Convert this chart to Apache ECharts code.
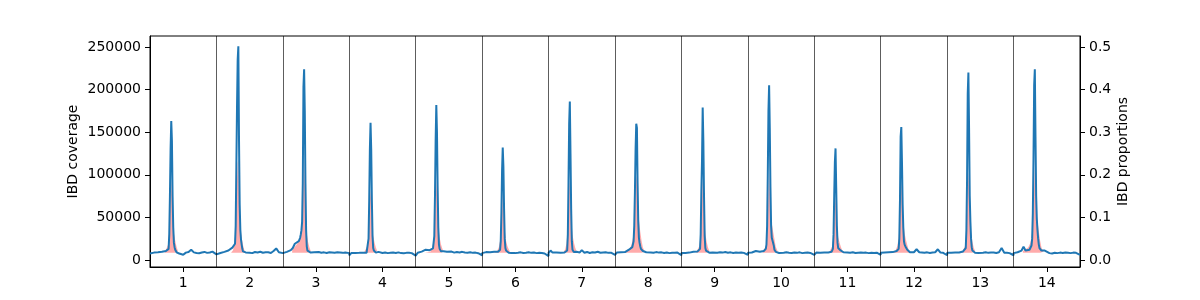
<!DOCTYPE html>
<html>
<head>
<meta charset="utf-8">
<script src="https://cdn.jsdelivr.net/npm/echarts@6/dist/echarts.min.js"></script>
<style>html,body{margin:0;padding:0;background:#fff}#c{width:1200px;height:300px}</style>
</head>
<body>
<div id="c"></div>
<script>
// chromosome numbers
const chromosomes = [1,2,3,4,5,6,7,8,9,10,11,12,13,14];
// relative position along each chromosome (0 = start, 1 = end)
const positions = [0.00,0.03,0.06,0.09,0.12,0.15,0.18,0.21,0.24,0.26,0.27,0.28,0.29,0.30,0.31,0.32,0.33,0.34,0.35,0.36,0.37,0.38,0.39,0.40,0.42,0.44,0.47,0.50,0.54,0.58,0.62,0.66,0.70,0.74,0.78,0.82,0.86,0.90,0.94,0.97,1.00];
// IBD coverage (thousands) per chromosome at the positions above
const cov1  = [7.5,8.0,8.6,8.3,9.0,8.7,9.5,9.8,10.5,11.0,11.5, 13,30,75,130,163,140,75,38,20,15,12,10,9.0, 8.5,7.5,8.8,6.0,8.6,9.2,12.0,8.9,8.2,7.9,8.8,9.4,8.3,8.8,9.8,8.6,6.5];
const cov2  = [8.0,8.5,8.2,9.0,9.5,10.2,11.0,12.5,14.5,15.5,16.5, 19,40,110,180,235,251,140,65,35,24,18,13,10, 9.5,8.8,9.4,8.5,8.0,9.3,8.7,9.6,8.4,8.9,9.0,8.2,10.5,13.5,9.0,8.2,8.0];
const cov3  = [9.0,8.8,9.5,10.0,11.5,14,19,21,22,26,30, 35,45,90,203,224,175,90,35,16,11,9.5,9.0,8.8, 8.6,8.3,9.0,8.8,9.4,8.5,8.9,8.2,9.0,8.7,8.4,8.9,8.6,8.3,8.8,8.5,8.0];
const cov4  = [5.5,8.0,8.4,8.2,8.6,8.3,8.0,8.5,8.2,8.4,8.6, 9.5,25,70,130,161,130,70,28,14,11,9.5,9.0,8.6, 8.3,9.5,8.4,8.2,8.7,8.0,8.4,8.6,8.2,8.9,8.0,7.8,8.3,8.5,8.0,7.2,5.0];
const cov5  = [5.5,8.5,9.0,9.8,11.5,12.0,10.8,11.5,12.5,13.5,15, 28,75,140,182,150,85,38,18,13,11,10.2,9.8,9.5, 10.2,8.8,9.6,10.5,9.8,8.6,9.2,8.8,9.5,8.7,8.5,9.0,8.3,8.6,7.9,7.5,5.5];
const cov6  = [8.0,8.5,9.2,8.7,9.0,8.4,9.5,8.8,9.6,10.5,12, 22,55,105,132,110,60,25,14,11,9.5,9.0,8.8,8.5, 9.0,8.2,8.6,8.0,8.4,8.9,8.2,8.5,9.0,8.3,8.7,8.0,8.4,8.2,7.6,7.0,4.5];
const cov7  = [8.5,11.0,8.6,9.2,8.8,9.0,8.5,9.3,8.7,9.0,9.5, 11,30,90,160,186,125,60,22,12,10,9.2,8.8,8.6, 9.5,8.4,8.8,11.5,8.5,9.4,8.2,9.0,8.7,9.6,8.4,8.8,9.0,8.3,8.5,8.0,6.0];
const cov8  = [8.0,8.8,8.3,9.0,8.6,9.2,10.5,12.0,13.5,15,17, 22,40,80,130,160,155,90,45,26,20,16,13,11.5, 10.5,9.5,9.0,8.2,8.8,8.4,9.2,8.6,8.9,8.2,8.7,8.0,8.5,8.3,8.6,7.5,5.5];
const cov9  = [8.0,8.5,8.2,9.0,8.6,8.8,9.5,9.0,9.8,10.5,11, 13,30,80,117,179,140,75,28,14,11,9.8,9.2,8.8, 8.5,9.0,8.8,9.5,8.4,9.0,8.6,9.2,8.5,8.9,8.2,8.6,8.4,8.8,8.3,8.0,6.0];
const cov10 = [8.5,9.0,8.7,9.5,10.5,12.0,9.5,10.0,10.5,11.5,13, 18,40,100,175,205,155,85,40,26,23,21,17,12, 9.5,8.6,8.2,8.8,8.4,9.0,8.5,8.1,8.7,8.3,8.9,8.0,8.4,8.6,8.2,7.8,6.0];
const cov11 = [7.0,8.6,8.9,8.4,9.0,8.7,9.3,8.8,9.2,9.5,10.5, 13,30,75,115,131,85,40,20,14,12.5,12,11.5,10.5, 9.5,9.0,8.6,8.8,8.4,9.0,8.2,8.5,8.7,8.3,8.6,8.0,8.4,8.2,8.5,7.8,6.0];
const cov12 = [8.5,8.2,8.8,8.4,9.0,8.7,9.2,9.5,10.5,11.5,13, 25,70,145,156,115,65,38,22,18,16,14.5,13.5,12, 10,9.0,8.8,9.0,12.5,9.0,8.8,8.4,8.9,8.2,8.7,9.0,12.5,8.6,8.3,7.8,5.5];
const cov13 = [8.5,8.8,8.4,9.0,8.6,9.2,8.8,9.5,10.0,10.5,11.5, 14,35,95,195,220,155,75,45,25,15,11,9.5,9.0, 8.5,8.8,8.2,8.7,8.4,9.0,8.3,8.6,8.8,8.2,9.0,14.0,8.5,8.4,8.0,7.0,5.5];
const cov14 = [8.0,8.5,9.0,9.5,11,15.5,11,10.5,12,14,17, 25,55,120,205,224,145,75,48,35,25,18,14,12, 11,11.5,11.0,9.5,8.0,7.5,8.4,8.0,8.6,8.2,8.8,8.4,8.0,8.6,8.3,8.0,6.0];
const coverage = [cov1,cov2,cov3,cov4,cov5,cov6,cov7,cov8,cov9,cov10,cov11,cov12,cov13,cov14];

// IBD proportions around each peak
const propPositions = [0.14,0.22,0.25,0.27,0.28,0.29,0.30,0.31,0.32,0.33,0.34,0.35,0.36,0.38,0.40,0.42,0.45];
const propBaseline = 0.017;
const prop1  = [0.017,0.017,0.021,0.035,0.049,0.072,0.107,0.157,0.187,0.157,0.117,0.087,0.063,0.045,0.031,0.021,0.017];
const prop2  = [0.017,0.017,0.023,0.039,0.057,0.085,0.127,0.187,0.227,0.237,0.157,0.107,0.077,0.052,0.035,0.023,0.017];
const prop3  = [0.023,0.039,0.047,0.062,0.072,0.087,0.127,0.187,0.237,0.187,0.127,0.087,0.062,0.042,0.029,0.021,0.017];
const prop4  = [0.017,0.017,0.020,0.032,0.045,0.065,0.097,0.137,0.167,0.137,0.102,0.075,0.057,0.041,0.029,0.021,0.017];
const prop5  = [0.017,0.019,0.029,0.047,0.067,0.097,0.137,0.187,0.157,0.117,0.087,0.067,0.053,0.037,0.027,0.020,0.017];
const prop6  = [0.017,0.019,0.029,0.045,0.062,0.087,0.117,0.157,0.127,0.097,0.072,0.057,0.045,0.033,0.025,0.019,0.017];
const prop7  = [0.017,0.017,0.025,0.039,0.057,0.082,0.117,0.167,0.187,0.147,0.107,0.079,0.059,0.042,0.029,0.021,0.017];
const prop8  = [0.017,0.025,0.037,0.052,0.067,0.087,0.117,0.157,0.187,0.197,0.167,0.127,0.097,0.067,0.045,0.029,0.019];
const prop9  = [0.017,0.017,0.021,0.033,0.047,0.069,0.102,0.147,0.187,0.167,0.117,0.085,0.062,0.043,0.029,0.021,0.017];
const prop10 = [0.017,0.017,0.021,0.033,0.047,0.072,0.107,0.167,0.207,0.167,0.127,0.102,0.087,0.067,0.049,0.031,0.020];
const prop11 = [0.017,0.017,0.021,0.032,0.044,0.062,0.092,0.127,0.147,0.117,0.087,0.067,0.053,0.041,0.031,0.022,0.017];
const prop12 = [0.017,0.021,0.033,0.052,0.072,0.102,0.147,0.187,0.157,0.117,0.092,0.075,0.062,0.047,0.035,0.024,0.017];
const prop13 = [0.017,0.017,0.021,0.033,0.047,0.072,0.107,0.167,0.207,0.167,0.117,0.087,0.065,0.043,0.029,0.021,0.017];
const prop14 = [0.021,0.029,0.039,0.053,0.067,0.089,0.127,0.177,0.217,0.167,0.127,0.107,0.092,0.067,0.045,0.029,0.019];
const proportions = [prop1,prop2,prop3,prop4,prop5,prop6,prop7,prop8,prop9,prop10,prop11,prop12,prop13,prop14];

// axis ticks
const xTicks = chromosomes;
const separators = [1.5,2.5,3.5,4.5,5.5,6.5,7.5,8.5,9.5,10.5,11.5,12.5,13.5];
const coverageTicks = [0,50000,100000,150000,200000,250000];
const proportionTicks = [0,0.1,0.2,0.3,0.4,0.5];

const covData = [];
chromosomes.forEach((c, i) => {
  coverage[i].forEach((v, j) => covData.push([c - 0.5 + positions[j], v * 1000]));
});
const propData = [];
chromosomes.forEach((c, i) => {
  proportions[i].forEach((v, j) => propData.push([c - 0.5 + propPositions[j], v]));
  propData.push([c - 0.5 + 0.7, null]);
});

const FONT = 'DejaVu Sans';
const axisTextStyle = {fontFamily: FONT, fontSize: 14, color: '#000'};

const chart = echarts.init(document.getElementById('c'), null, {renderer: 'canvas'});
chart.setOption({
  animation: false,
  backgroundColor: '#fff',
  textStyle: {fontFamily: FONT},
  grid: {left: 150, right: 120, top: 36, bottom: 33, show: true, borderColor: '#000', borderWidth: 1, backgroundColor: 'transparent'},
  xAxis: {
    type: 'value', min: 0.5, max: 14.5,
    axisLine: {show: true, onZero: false, lineStyle: {color: '#000', width: 1}},
    axisTick: {show: true, length: 5, lineStyle: {color: '#000'}, customValues: xTicks},
    axisLabel: Object.assign({margin: 9, customValues: xTicks}, axisTextStyle),
    splitLine: {show: false}
  },
  yAxis: [
    {
      type: 'value', min: -8300, max: 263000, position: 'left',
      name: 'IBD coverage', nameLocation: 'middle', nameGap: 70, nameRotate: 90, nameMoveOverlap: false,
      nameTextStyle: {fontFamily: FONT, fontSize: 14, color: '#000'},
      axisLine: {show: true, onZero: false, lineStyle: {color: '#000'}},
      axisTick: {show: true, length: 5, lineStyle: {color: '#000'}, customValues: coverageTicks},
      axisLabel: Object.assign({margin: 9, customValues: coverageTicks, formatter: v => String(v)}, axisTextStyle),
      splitLine: {show: false}
    },
    {
      type: 'value', min: -0.0166, max: 0.526, position: 'right',
      name: 'IBD proportions', nameLocation: 'middle', nameGap: 36, nameRotate: 90, nameMoveOverlap: false,
      nameTextStyle: {fontFamily: FONT, fontSize: 14, color: '#000'},
      axisLine: {show: true, onZero: false, lineStyle: {color: '#000'}},
      axisTick: {show: true, length: 5, lineStyle: {color: '#000'}, customValues: proportionTicks},
      axisLabel: Object.assign({margin: 9, customValues: proportionTicks, formatter: v => v.toFixed(1)}, axisTextStyle),
      splitLine: {show: false}
    }
  ],
  series: [
    {
      type: 'line', name: 'sep', data: [], z: 1, silent: true,
      markLine: {
        silent: true, symbol: ['none', 'none'], label: {show: false}, animation: false,
        lineStyle: {color: 'rgba(0,0,0,0.8)', width: 0.8, type: 'solid'},
        emphasis: {disabled: true},
        data: separators.map(s => ({xAxis: s}))
      }
    },
    {
      type: 'line', name: 'IBD proportions', yAxisIndex: 1, data: propData, z: 2,
      showSymbol: false, symbol: 'none', connectNulls: false,
      lineStyle: {width: 0, opacity: 0},
      areaStyle: {color: 'rgba(255,0,0,0.33)', origin: propBaseline, opacity: 1}
    },
    {
      type: 'line', name: 'IBD coverage', yAxisIndex: 0, data: covData, z: 3,
      showSymbol: false, symbol: 'none',
      lineStyle: {color: '#1f77b4', width: 2}
    }
  ]
});
</script>
</body>
</html>
